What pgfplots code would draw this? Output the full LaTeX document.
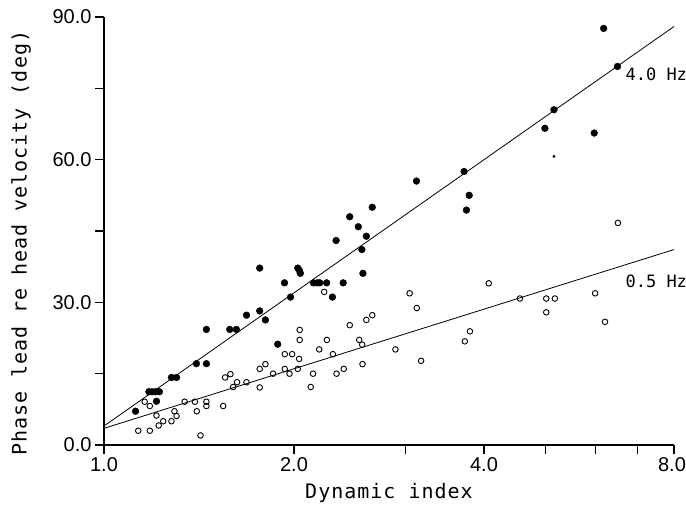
\documentclass[border=0pt]{standalone}
\usepackage{pgfplots}
\pgfplotsset{compat=1.18}
\usepackage{fontspec}
\setmainfont{DejaVu Sans Mono}
\newfontfamily\tickfont{Liberation Sans}
\newfontfamily\labfont{DejaVu Sans Mono}[LetterSpace=5]
\begin{document}
\begin{tikzpicture}
\path[use as bounding box] (-104pt,-70pt) rectangle (582pt,445pt);
\begin{axis}[
 scale only axis, width=570pt, height=428pt,
 xmode=log, xmin=1, xmax=8, ymin=0, ymax=90,
 axis x line*=bottom, axis y line*=left,
 axis line style={line width=1.4pt},
 tick align=outside,
 xtick={1,2,4,8}, xticklabels={1.0,2.0,4.0,\hspace*{-4pt}8.0},
 minor xtick={3,5,6,7},
 ytick={0,30,60,90}, yticklabels={0.0,30.0,60.0,90.0},
 minor ytick={15,45,75},
 major tick length=9pt, minor tick length=9pt,
 tick style={line width=1.2pt, black},
 xlabel={Dynamic index}, ylabel={Phase lead re head velocity (deg)},
 /pgf/number format/assume math mode=true,
 ticklabel style={font=\tickfont\fontsize{20}{24}\selectfont},
 label style={font=\labfont\fontsize{20}{24}\selectfont},
 xlabel style={yshift=-5pt},
 ylabel style={at={(axis description cs:-0.1456,0.472)}, anchor=center},
 clip=false,
]
\addplot[black, line width=0.8pt] coordinates {(1,4) (8,88)};
\addplot[black, line width=0.8pt] coordinates {(1,3.5) (8,41.1)};
\addplot[only marks, mark=*, mark size=3.4pt, black] coordinates {
(1.122,7.1)
(1.178,11.2)(1.192,11.2)(1.207,11.2)(1.224,11.2)
(1.211,9.2)
(1.279,14.2)(1.303,14.2)
(1.401,17.1)(1.453,17.1)(1.453,24.3)
(1.582,24.3)(1.621,24.3)
(1.682,27.3)(1.765,28.2)(1.765,37.2)(1.802,26.3)
(1.885,21.2)(1.932,34.1)(1.975,31.1)
(2.028,37.2)(2.04,36.7)(2.047,36.1)
(2.147,34.1)(2.178,34.1)(2.197,34.1)(2.253,34.1)
(2.301,31.1)(2.332,43.0)(2.393,34.1)
(2.451,48.0)(2.529,45.9)(2.562,41.1)(2.572,36.1)(2.604,43.9)(2.661,50.0)
(3.127,55.5)(3.72,57.5)(3.79,52.5)(3.752,49.4)
(4.995,66.6)(5.163,70.5)(5.98,65.6)(6.19,87.6)(6.51,79.6)
};
\addplot[only marks, mark=*, mark size=1.2pt, black] coordinates {(5.163,60.7)};
\addplot[only marks, mark=o, mark size=2.8pt, black, line width=0.9pt] coordinates {
(1.133,3.0)(1.182,3.0)(1.16,9.1)(1.182,8.2)(1.211,6.2)(1.241,5.0)(1.221,4.1)
(1.279,5.0)(1.293,7.1)(1.303,6.1)(1.342,9.1)(1.393,9.1)(1.403,7.1)(1.422,2.0)
(1.453,9.1)(1.453,8.2)(1.545,8.2)(1.556,14.2)(1.586,14.9)(1.602,12.2)(1.625,13.2)
(1.682,13.2)(1.765,12.1)(1.765,16.0)(1.802,17.0)(1.853,15.0)(1.934,19.1)(1.934,16.0)
(1.968,15.0)(1.987,19.1)(2.028,16.0)(2.038,18.1)(2.042,22.1)(2.042,24.2)
(2.126,12.2)(2.144,15.0)(2.193,20.1)(2.233,32.2)(2.255,22.1)(2.305,19.1)
(2.336,15.0)(2.398,16.0)(2.451,25.2)(2.537,22.1)(2.565,21.1)(2.568,17.0)
(2.604,26.3)(2.661,27.3)(2.896,20.1)
(3.05,31.9)(3.13,28.8)(3.18,17.7)(3.73,21.8)(3.80,23.9)(4.07,34.0)
(4.56,30.8)(5.02,30.8)(5.02,27.9)(5.18,30.8)(6.0,31.9)(6.22,25.9)(6.52,46.7)
};
\node[anchor=west, inner sep=0pt, font=\fontsize{17}{20}\selectfont] at (axis cs:6.7,78) {4.0 Hz};
\node[anchor=west, inner sep=0pt, font=\fontsize{17}{20}\selectfont] at (axis cs:6.7,34.5) {0.5 Hz};
\end{axis}
\end{tikzpicture}
\end{document}
